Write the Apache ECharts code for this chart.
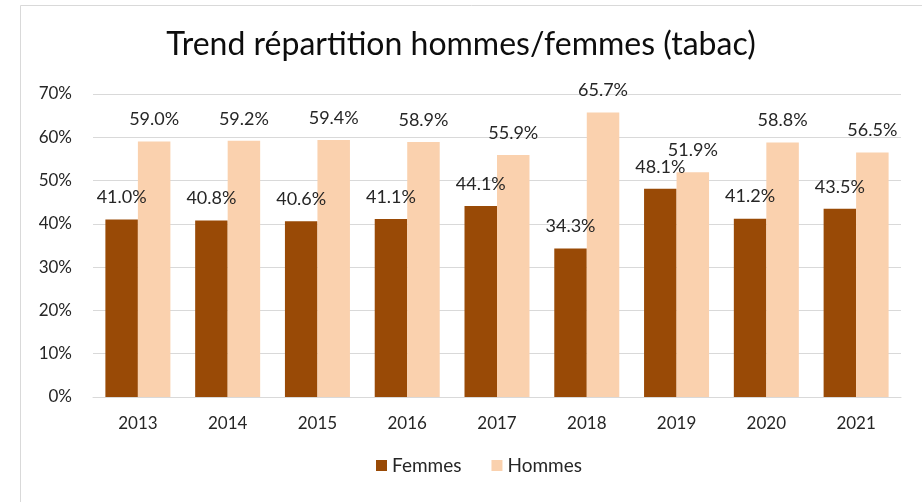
<!DOCTYPE html>
<html>
<head>
<meta charset="utf-8">
<script src="https://cdn.jsdelivr.net/npm/echarts@6/dist/echarts.min.js"></script>
<style>
  html, body { margin: 0; padding: 0; background: #fff; }
  #chart { width: 922px; height: 502px; }
</style>
</head>
<body>
<div id="chart"></div>
<script>
// données
const years = ['2013', '2014', '2015', '2016', '2017', '2018', '2019', '2020', '2021'];
const femmes = [41.0, 40.8, 40.6, 41.1, 44.1, 34.3, 48.1, 41.2, 43.5];
const hommes = [59.0, 59.2, 59.4, 58.9, 55.9, 65.7, 51.9, 58.8, 56.5];

const font = 'Lato, "Open Sans", sans-serif';

const chart = echarts.init(document.getElementById('chart'));

const labelOpt = {
  show: true,
  position: 'top',
  distance: 13,
  color: '#262626',
  fontSize: 18,
  fontFamily: font,
  formatter: p => p.value.toFixed(1) + '%'
};

chart.setOption({
  animation: false,
  graphic: [{
    type: 'rect',
    shape: { x: 20.5, y: 5.5, width: 960, height: 560 },
    style: { fill: 'none', stroke: '#d9d9d9', lineWidth: 1 },
    silent: true
  }],
  title: {
    text: 'Trend répartition hommes/femmes (tabac)',
    left: 'center',
    top: 24,
    textStyle: { fontSize: 32, fontWeight: 'normal', color: '#0d0d0d', fontFamily: font }
  },
  legend: {
    bottom: 22,
    left: 371,
    itemWidth: 11,
    itemHeight: 11,
    itemGap: 30,
    icon: 'rect',
    textStyle: { fontSize: 19, color: '#262626', fontFamily: font }
  },
  grid: { left: 93, right: 21, top: 94, bottom: 105 },
  xAxis: {
    type: 'category',
    data: years,
    axisLine: { lineStyle: { color: '#d9d9d9' } },
    axisTick: { show: false },
    axisLabel: { color: '#262626', fontSize: 17, fontFamily: font, margin: 18 }
  },
  yAxis: {
    type: 'value',
    min: 0,
    max: 70,
    interval: 10,
    axisLabel: { formatter: '{value}%', color: '#262626', fontSize: 17, fontFamily: font, margin: 21 },
    splitLine: { lineStyle: { color: '#d9d9d9' } },
    axisLine: { show: false },
    axisTick: { show: false }
  },
  series: [
    {
      name: 'Femmes',
      type: 'bar',
      data: femmes,
      barGap: '0%',
      barCategoryGap: '27.6%',
      itemStyle: { color: '#994A06' },
      label: labelOpt
    },
    {
      name: 'Hommes',
      type: 'bar',
      data: hommes,
      itemStyle: { color: '#FAD1AE' },
      label: labelOpt
    }
  ]
});
</script>
</body>
</html>
